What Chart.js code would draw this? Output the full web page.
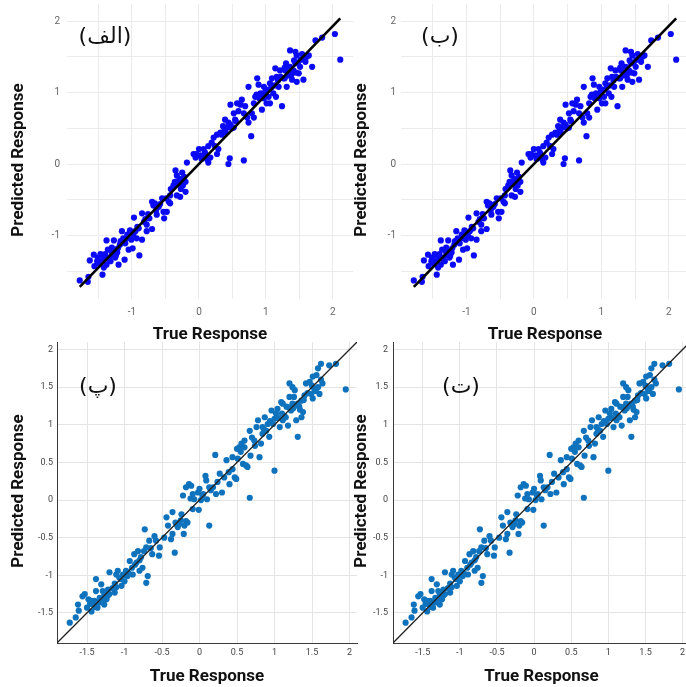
<!DOCTYPE html>
<html>
<head>
<meta charset="utf-8">
<script src="https://cdn.jsdelivr.net/npm/chart.js@4.4.1/dist/chart.umd.min.js"></script>
<style>
  body { margin: 0; background: #fff; }
  #wrap { position: relative; width: 686px; height: 687px; overflow: hidden; background: #fff; }
  #wrap canvas { position: absolute; }
  .tag { position: absolute; transform: translate(-50%, -50%); font-family: "DejaVu Sans", sans-serif;
         font-size: 22px; color: #111; white-space: nowrap; line-height: 1; }
</style>
</head>
<body>
<div id="wrap">
  <canvas id="c1" width="360" height="345" style="left:0px;top:0px"></canvas>
  <canvas id="c2" width="350" height="345" style="left:343px;top:0px"></canvas>
  <canvas id="c3" width="365" height="356" style="left:0px;top:331px"></canvas>
  <canvas id="c4" width="351" height="356" style="left:343px;top:331px"></canvas>
  <div class="tag" style="left:105px;top:36px">(الف)</div>
  <div class="tag" style="left:440px;top:36px">(ب)</div>
  <div class="tag" style="left:98px;top:386px">(پ)</div>
  <div class="tag" style="left:461px;top:386px">(ت)</div>
</div>
<script>
// top row (panels الف / ب)
const topTrue = [-1.78,-1.66,-1.65,-1.63,-1.56,-1.51,-1.47,-1.45,-1.44,-1.40,
  -1.38,-1.36,-1.34,-1.32,-1.29,-1.27,-1.25,-1.22,-1.38,-1.27,
  -1.21,-1.11,-1.15,-1.13,-1.10,-1.07,-1.05,-1.01,-0.99,-0.98,
  -0.95,-0.93,-0.90,-0.89,-0.85,-0.97,-0.85,-0.82,-0.78,-0.74,
  -0.70,-0.70,-0.68,-0.64,-0.60,-0.53,-0.52,-0.55,-0.49,-0.45,
  -0.43,-0.42,-0.43,-0.38,-0.35,-0.33,-0.30,-0.28,-0.27,-0.33,
  -0.24,-0.20,-0.18,-0.25,-0.28,-0.20,-0.08,-0.05,0.00,0.02,
  0.04,0.09,0.12,0.14,0.17,0.19,0.24,0.29,0.27,0.32,
  0.36,0.38,0.42,0.44,0.47,0.52,0.44,0.46,0.67,0.47,
  0.57,0.59,0.62,0.67,0.72,0.74,0.78,0.82,0.74,0.84,
  0.87,0.89,0.92,0.97,0.99,1.01,1.04,1.06,1.09,1.11,
  1.15,1.19,1.24,1.26,1.29,1.31,1.34,1.36,1.39,1.41,
  1.44,1.46,1.49,1.51,1.56,1.59,1.61,1.36,1.44,1.54,
  1.69,1.74,1.84,2.03,2.11,0.82,0.94,1.01,1.16,1.21,
  1.14,1.30,0.52,0.54,0.34,0.14,0.07,-0.04,-0.48,-0.63,
  -0.78,-1.03,-1.17,-1.30,-1.42,-1.52,-1.57,-1.20,0.27,0.22,
  0.39,0.64,0.69,0.79,0.97,1.06,1.46,1.64,
  -1.48,-1.42,-1.35,-1.30,-1.24,-1.18,-1.08,-1.03,-0.92,-0.80,
  -0.76,-0.66,-0.58,-0.36,-0.31,-0.22,0.06,0.10,0.40,0.49,
  0.55,0.86,0.90,0.94,1.00,1.08,1.13,1.18,1.22,1.28,
  1.33,1.38,1.42,1.48,1.52,1.57,1.28,1.45];
const topPred = [-1.63,-1.65,-1.58,-1.35,-1.43,-1.31,-1.26,-1.36,-1.55,-1.26,
  -1.41,-1.20,-1.31,-1.36,-1.27,-1.22,-1.31,-1.24,-1.07,-1.07,
  -1.18,-1.34,-0.94,-1.04,-1.11,-0.99,-1.20,-1.06,-1.18,-0.99,
  -0.94,-1.04,-0.90,-1.28,-1.06,-0.75,-0.69,-0.81,-0.85,-0.76,
  -0.91,-0.53,-0.58,-0.65,-0.60,-0.67,-0.76,-0.48,-0.48,-0.53,
  -0.44,-0.35,-0.55,-0.30,-0.09,-0.16,-0.28,-0.21,-0.35,-0.44,
  -0.30,-0.25,0.02,-0.12,-0.46,-0.39,0.14,0.09,0.21,0.12,
  0.07,0.16,0.07,0.02,0.09,0.30,0.25,0.21,0.41,0.44,
  0.53,0.46,0.51,0.58,0.55,0.51,0.00,0.08,0.05,0.83,
  0.85,0.74,0.83,0.71,0.65,0.58,0.39,0.65,1.08,0.94,
  1.20,1.11,0.99,0.92,1.01,0.85,0.94,1.13,1.20,0.99,
  0.94,1.08,0.81,1.20,1.31,1.08,1.24,1.36,1.18,1.31,
  1.41,1.52,1.27,1.36,1.18,1.43,1.50,1.59,1.57,1.54,
  1.36,1.73,1.77,1.82,1.46,0.85,0.76,1.04,1.22,1.31,
  1.34,1.41,0.71,0.62,0.41,0.25,0.21,0.14,-0.67,-0.71,
  -0.94,-0.97,-1.08,-1.17,-1.45,-1.36,-1.27,-1.41,0.14,0.37,
  0.62,0.90,0.81,0.71,1.08,0.85,1.15,1.52,
  -1.40,-1.30,-1.33,-1.24,-1.28,-1.13,-1.04,-0.93,-0.88,-0.77,
  -0.70,-0.55,-0.56,-0.25,-0.24,-0.18,0.10,0.12,0.44,0.50,
  0.60,0.97,0.92,0.98,0.96,1.07,1.10,1.17,1.22,1.20,
  1.28,1.25,1.45,1.42,1.46,1.49,1.35,1.28];
const topLineX = [-1.78, 2.11];
const topLineY = [-1.72, 2.04];

// bottom row (panels پ / ت)
const botTrue = [-1.73,-1.65,-1.62,-1.61,-1.53,-1.50,-1.48,-1.44,-1.42,-1.40,
  -1.38,-1.36,-1.33,-1.31,-1.29,-1.27,-1.24,-1.22,-1.20,-1.38,
  -1.31,-1.13,-1.20,-1.13,-1.09,-1.07,-1.04,-1.02,-1.00,-0.98,
  -0.96,-0.93,-0.90,-0.87,-0.84,-0.82,-0.78,-0.76,-0.73,-0.71,
  -0.69,-0.71,-0.67,-0.63,-0.60,-0.54,-0.47,-0.44,-0.42,-0.38,
  -0.36,-0.33,-0.32,-0.29,-0.27,-0.24,-0.21,-0.18,-0.16,-0.22,
  -0.18,-0.14,-0.11,-0.09,-0.07,-0.02,0.00,-0.01,0.02,0.05,
  0.08,0.10,0.13,0.13,0.18,0.21,0.24,0.27,0.30,0.33,
  0.36,0.39,0.40,0.44,0.47,0.49,0.51,0.50,0.53,0.56,
  0.58,0.62,0.64,0.67,0.68,0.70,0.73,0.76,0.78,0.80,
  0.82,0.84,0.87,0.89,0.91,0.93,0.96,0.98,1.00,1.00,
  1.04,1.07,1.09,1.11,1.13,1.16,1.18,1.20,1.22,1.24,
  1.27,1.29,1.31,1.33,1.36,1.38,1.40,1.42,1.47,1.49,
  1.51,1.53,1.56,1.58,1.60,1.62,1.64,1.73,1.82,1.20,
  1.24,1.36,1.11,1.02,0.84,0.67,0.60,0.44,0.22,0.09,
  -0.09,-0.20,-0.36,-0.53,-0.58,-0.80,-0.89,-1.11,-1.27,-1.44,
  -1.56,-1.11,1.58,1.51,1.95,
  -1.46,-1.39,-1.35,-1.30,-1.26,-1.22,-1.16,-1.05,-1.00,-0.94,
  -0.86,-0.80,-0.74,-0.65,-0.30,-0.25,-0.12,0.04,0.15,0.55,
  0.60,0.74,0.86,0.94,1.05,1.10,1.15,1.19,1.25,1.30,
  1.34,1.39,1.44,1.50,1.55,1.62,1.26,1.31];
const botPred = [-1.63,-1.56,-1.39,-1.47,-1.25,-1.43,-1.32,-1.48,-1.39,-1.34,
  -1.05,-1.43,-1.30,-1.36,-1.21,-1.39,-1.32,-1.19,-1.25,-1.21,
  -1.12,-1.23,-0.96,-1.11,-0.94,-1.03,-1.14,-0.99,-1.08,-0.94,
  -1.01,-0.81,-0.90,-0.72,-0.83,-0.68,-0.76,-0.90,-0.39,-1.10,
  -1.01,-0.63,-0.54,-0.72,-0.48,-0.74,-0.50,-0.23,-0.34,-0.52,
  -0.16,-0.70,-0.30,-0.36,-0.32,-0.19,-0.45,-0.28,-0.30,0.06,
  0.17,0.21,0.19,0.08,0.01,0.10,0.15,-0.13,0.00,0.08,
  0.32,0.01,-0.34,0.17,0.17,0.60,0.24,0.35,0.10,0.30,
  0.53,0.37,0.21,0.41,0.30,0.28,0.55,0.68,0.70,0.75,
  0.48,0.46,0.44,0.03,0.59,0.83,0.79,0.97,1.06,0.57,
  0.75,0.88,1.10,0.92,1.01,0.84,1.19,1.01,0.39,1.08,
  1.21,0.97,1.30,1.06,1.12,1.24,0.99,1.37,1.19,1.28,
  1.46,1.06,0.84,1.24,1.32,1.17,1.39,1.55,1.57,1.41,
  1.35,1.48,1.66,1.75,1.41,1.81,1.55,1.79,1.81,1.55,
  1.50,1.10,1.28,1.15,0.97,0.92,0.79,0.57,0.08,0.26,
  -0.12,-0.34,-0.45,-0.63,-0.54,-0.94,-0.99,-1.16,-1.25,-1.34,
  -1.28,-0.99,1.50,1.64,1.47,
  -1.38,-1.42,-1.36,-1.34,-1.30,-1.27,-1.17,-1.05,-1.00,-0.98,
  -0.86,-0.80,-0.68,-0.64,-0.33,-0.27,0.02,0.06,0.13,0.64,
  0.70,0.72,0.94,1.05,1.09,1.15,1.10,1.23,1.22,1.26,
  1.20,1.33,1.42,1.52,1.45,1.60,1.37,1.28];
const botLineX = [-1.9, 2.1];
const botLineY = [-1.9, 2.1];

const tickValues = [-1.5, -1, -0.5, 0, 0.5, 1, 1.5, 2];

const xTitle = 'True Response';
const yTitle = 'Predicted Response';

function toPoints(xs, ys) {
    return xs.map((x, i) => ({x: x, y: ys[i]}));
}

// rotated y title, placed by pixel centre so it can sit off the plot middle
const yTitlePlugin = {
    id: 'yTitle',
    afterDraw(chart, args, opts) {
        const ctx = chart.ctx;
        ctx.save();
        ctx.translate(opts.x, opts.y);
        ctx.rotate(-Math.PI / 2);
        ctx.font = 'bold 17px Roboto, sans-serif';
        ctx.fillStyle = '#111';
        ctx.textAlign = 'center';
        ctx.textBaseline = 'middle';
        ctx.fillText(opts.text, 0, 0);
        ctx.restore();
    }
};

function makePanel(id, p) {
    const fixTicks = (s) => { s.ticks = tickValues.map(v => ({value: v})); };
    const noPad = (s) => { s.paddingTop = 0; s.paddingBottom = 0; s.paddingLeft = 0; s.paddingRight = 0; };
    const tickFont = {family: 'Roboto, sans-serif', size: p.tickSize};
    const titleFont = {family: 'Roboto, sans-serif', size: 17, weight: 'bold', lineHeight: 1.2};
    const border = {display: p.box, color: '#3a3a3a', width: 1};
    return new Chart(document.getElementById(id), {
        type: 'scatter',
        data: {
            datasets: [
                {
                    type: 'line',
                    data: toPoints(p.lineX, p.lineY),
                    borderColor: p.lineColor,
                    borderWidth: p.lineWidth,
                    pointRadius: 0,
                    fill: false
                },
                {
                    data: toPoints(p.xs, p.ys),
                    backgroundColor: p.dotColor,
                    borderWidth: 0,
                    pointRadius: 3.1
                }
            ]
        },
        options: {
            responsive: false,
            animation: false,
            layout: {padding: p.pad},
            plugins: {
                legend: {display: false},
                tooltip: {enabled: false},
                yTitle: {text: yTitle, x: 19, y: p.yTitleY}
            },
            scales: {
                x: {
                    type: 'linear', min: p.xMin, max: p.xMax,
                    afterBuildTicks: fixTicks,
                    afterFit: (s) => { s.height = p.xAxisH; noPad(s); },
                    grid: {color: p.gridColor, drawTicks: false},
                    border: border,
                    ticks: {font: tickFont, color: p.tickColor, padding: p.xTickPad,
                            autoSkip: false, maxRotation: 0, callback: p.label},
                    title: {display: true, text: xTitle, color: '#111', font: titleFont,
                            padding: {top: 0, bottom: p.xTitlePad}}
                },
                y: {
                    type: 'linear', min: p.yMin, max: p.yMax,
                    afterBuildTicks: fixTicks,
                    afterFit: (s) => { s.width = p.yAxisW; noPad(s); },
                    grid: {color: p.gridColor, drawTicks: false},
                    border: border,
                    ticks: {font: tickFont, color: p.tickColor, padding: p.yTickPad,
                            autoSkip: false, callback: p.label}
                }
            }
        },
        plugins: [yTitlePlugin]
    });
}

// ggplot style: labels on whole numbers only
const wholeLabel = (v) => Number.isInteger(v) ? String(v) : '';
// matlab style: every tick labelled
const halfLabel = (v) => String(v);

const topStyle = {
    xs: topTrue, ys: topPred, lineX: topLineX, lineY: topLineY,
    xMin: -1.97, xMax: 2.30, yMin: -1.89, yMax: 2.24,
    dotColor: '#0a0af5', lineColor: '#000', lineWidth: 2.6,
    gridColor: '#ebebeb', tickColor: '#666', tickSize: 10, box: false,
    label: wholeLabel, xAxisH: 46, xTickPad: 7, xTitlePad: 0, yTitleY: 160
};
const botStyle = {
    xs: botTrue, ys: botPred, lineX: botLineX, lineY: botLineY,
    xMin: -1.9, xMax: 2.1, yMin: -1.9, yMax: 2.1,
    dotColor: '#0f72bd', lineColor: '#222', lineWidth: 1.3,
    gridColor: '#e4e4e4', tickColor: '#444', tickSize: 9, box: true,
    label: halfLabel, xAxisH: 44, xTickPad: 4, xTitlePad: 0, yTitleY: 160
};

makePanel('c1', Object.assign({}, topStyle, {pad: {left: 0, top: 0, right: 7, bottom: 0}, yAxisW: 67, yTickPad: 7}));
makePanel('c2', Object.assign({}, topStyle, {pad: {left: 0, top: 0, right: 4, bottom: 0}, yAxisW: 58, yTickPad: 5}));
makePanel('c3', Object.assign({}, botStyle, {pad: {left: 0, top: 11, right: 8, bottom: 0}, yAxisW: 57, yTickPad: 4}));
makePanel('c4', Object.assign({}, botStyle, {pad: {left: 0, top: 11, right: 0, bottom: 0}, yAxisW: 50, yTickPad: 5}));
</script>
</body>
</html>
